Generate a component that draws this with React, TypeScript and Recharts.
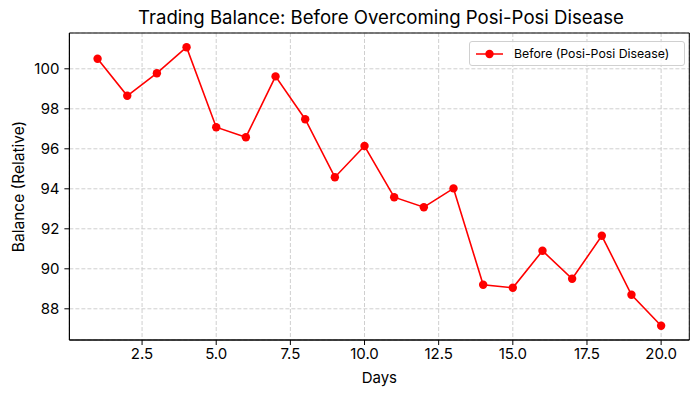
import {
  LineChart,
  Line,
  XAxis,
  YAxis,
  CartesianGrid,
  ReferenceArea,
  Legend,
  Label,
} from "recharts";

const days = [1, 2, 3, 4, 5, 6, 7, 8, 9, 10, 11, 12, 13, 14, 15, 16, 17, 18, 19, 20];
const balance = [
  100.5, 98.65, 99.78, 101.08, 97.08, 96.58, 99.62, 97.48, 94.58, 96.14,
  93.58, 93.08, 94.02, 89.2, 89.05, 90.9, 89.5, 91.65, 88.7, 87.15,
];
const xTicks = [2.5, 5, 7.5, 10, 12.5, 15, 17.5, 20];
const yTicks = [88, 90, 92, 94, 96, 98, 100];
const seriesName = "Before (Posi-Posi Disease)";

const data = days.map((d, i) => ({ day: d, balance: balance[i] }));

const FONT = "Inter, 'Noto Sans', sans-serif";
const xDomain: [number, number] = [0.05, 20.95];
const yDomain: [number, number] = [86.44, 101.79];

function LegendBox() {
  return (
    <div
      style={{
        width: 216,
        height: 25,
        boxSizing: "border-box",
        border: "1px solid #d0d0d0",
        borderRadius: 3,
        background: "rgba(255,255,255,0.8)",
        display: "flex",
        alignItems: "center",
        fontFamily: FONT,
        fontSize: 12.3,
        color: "#000",
      }}
    >
      <svg width={40} height={20}>
        <line x1={6} y1={10} x2={33} y2={10} stroke="#ff0000" strokeWidth={1.5} />
        <circle cx={19.5} cy={10} r={4.2} fill="#ff0000" />
      </svg>
      <span style={{ marginLeft: 4 }}>{seriesName}</span>
    </div>
  );
}

export default function App() {
  return (
    <div style={{ position: "absolute", left: 0, top: 0, width: 699, height: 397, background: "#fff" }}>
      <div
        style={{
          position: "absolute",
          left: 0,
          top: 4,
          width: 762,
          textAlign: "center",
          fontFamily: FONT,
          fontSize: 18.6,
          lineHeight: "26px",
          color: "#000",
        }}
      >
        Trading Balance: Before Overcoming Posi-Posi Disease
      </div>
      <LineChart
        width={699}
        height={397}
        data={data}
        margin={{ top: 33, right: 9.7, bottom: 14, left: 9.4 }}
        style={{ fontFamily: FONT }}
      >
        <CartesianGrid stroke="#cfcfcf" strokeDasharray="4 2" strokeWidth={1} />
        <XAxis
          dataKey="day"
          type="number"
          domain={xDomain}
          ticks={xTicks}
          allowDataOverflow
          tickFormatter={(v: number) => v.toFixed(1)}
          height={43}
          tickSize={5}
          tickMargin={3}
          stroke="#000"
          tick={{ fill: "#000", fontSize: 15 }}
        >
          <Label value="Days" position="insideBottom" offset={0} style={{ fontSize: 15, fill: "#000" }} />
        </XAxis>
        <YAxis
          type="number"
          domain={yDomain}
          ticks={yTicks}
          allowDataOverflow
          width={60}
          tickSize={5}
          tickMargin={5}
          stroke="#000"
          tick={{ fill: "#000", fontSize: 15 }}
        >
          <Label
            value="Balance (Relative)"
            angle={-90}
            position="insideLeft"
            offset={9}
            style={{ fontSize: 15.5, fill: "#000", textAnchor: "middle" }}
          />
        </YAxis>
        <ReferenceArea
          x1={xDomain[0]}
          x2={xDomain[1]}
          y1={yDomain[0]}
          y2={yDomain[1]}
          fill="none"
          stroke="#000"
          strokeWidth={1}
        />
        <Line
          dataKey="balance"
          name={seriesName}
          stroke="#ff0000"
          strokeWidth={1.6}
          dot={{ r: 4.2, fill: "#ff0000", stroke: "#ff0000", strokeWidth: 0 }}
          activeDot={false}
          isAnimationActive={false}
        />
        <Legend
          layout="vertical"
          align="center"
          verticalAlign="middle"
          content={() => <LegendBox />}
          wrapperStyle={{ position: "absolute", left: 469, top: 41, width: 216 }}
        />
      </LineChart>
    </div>
  );
}
